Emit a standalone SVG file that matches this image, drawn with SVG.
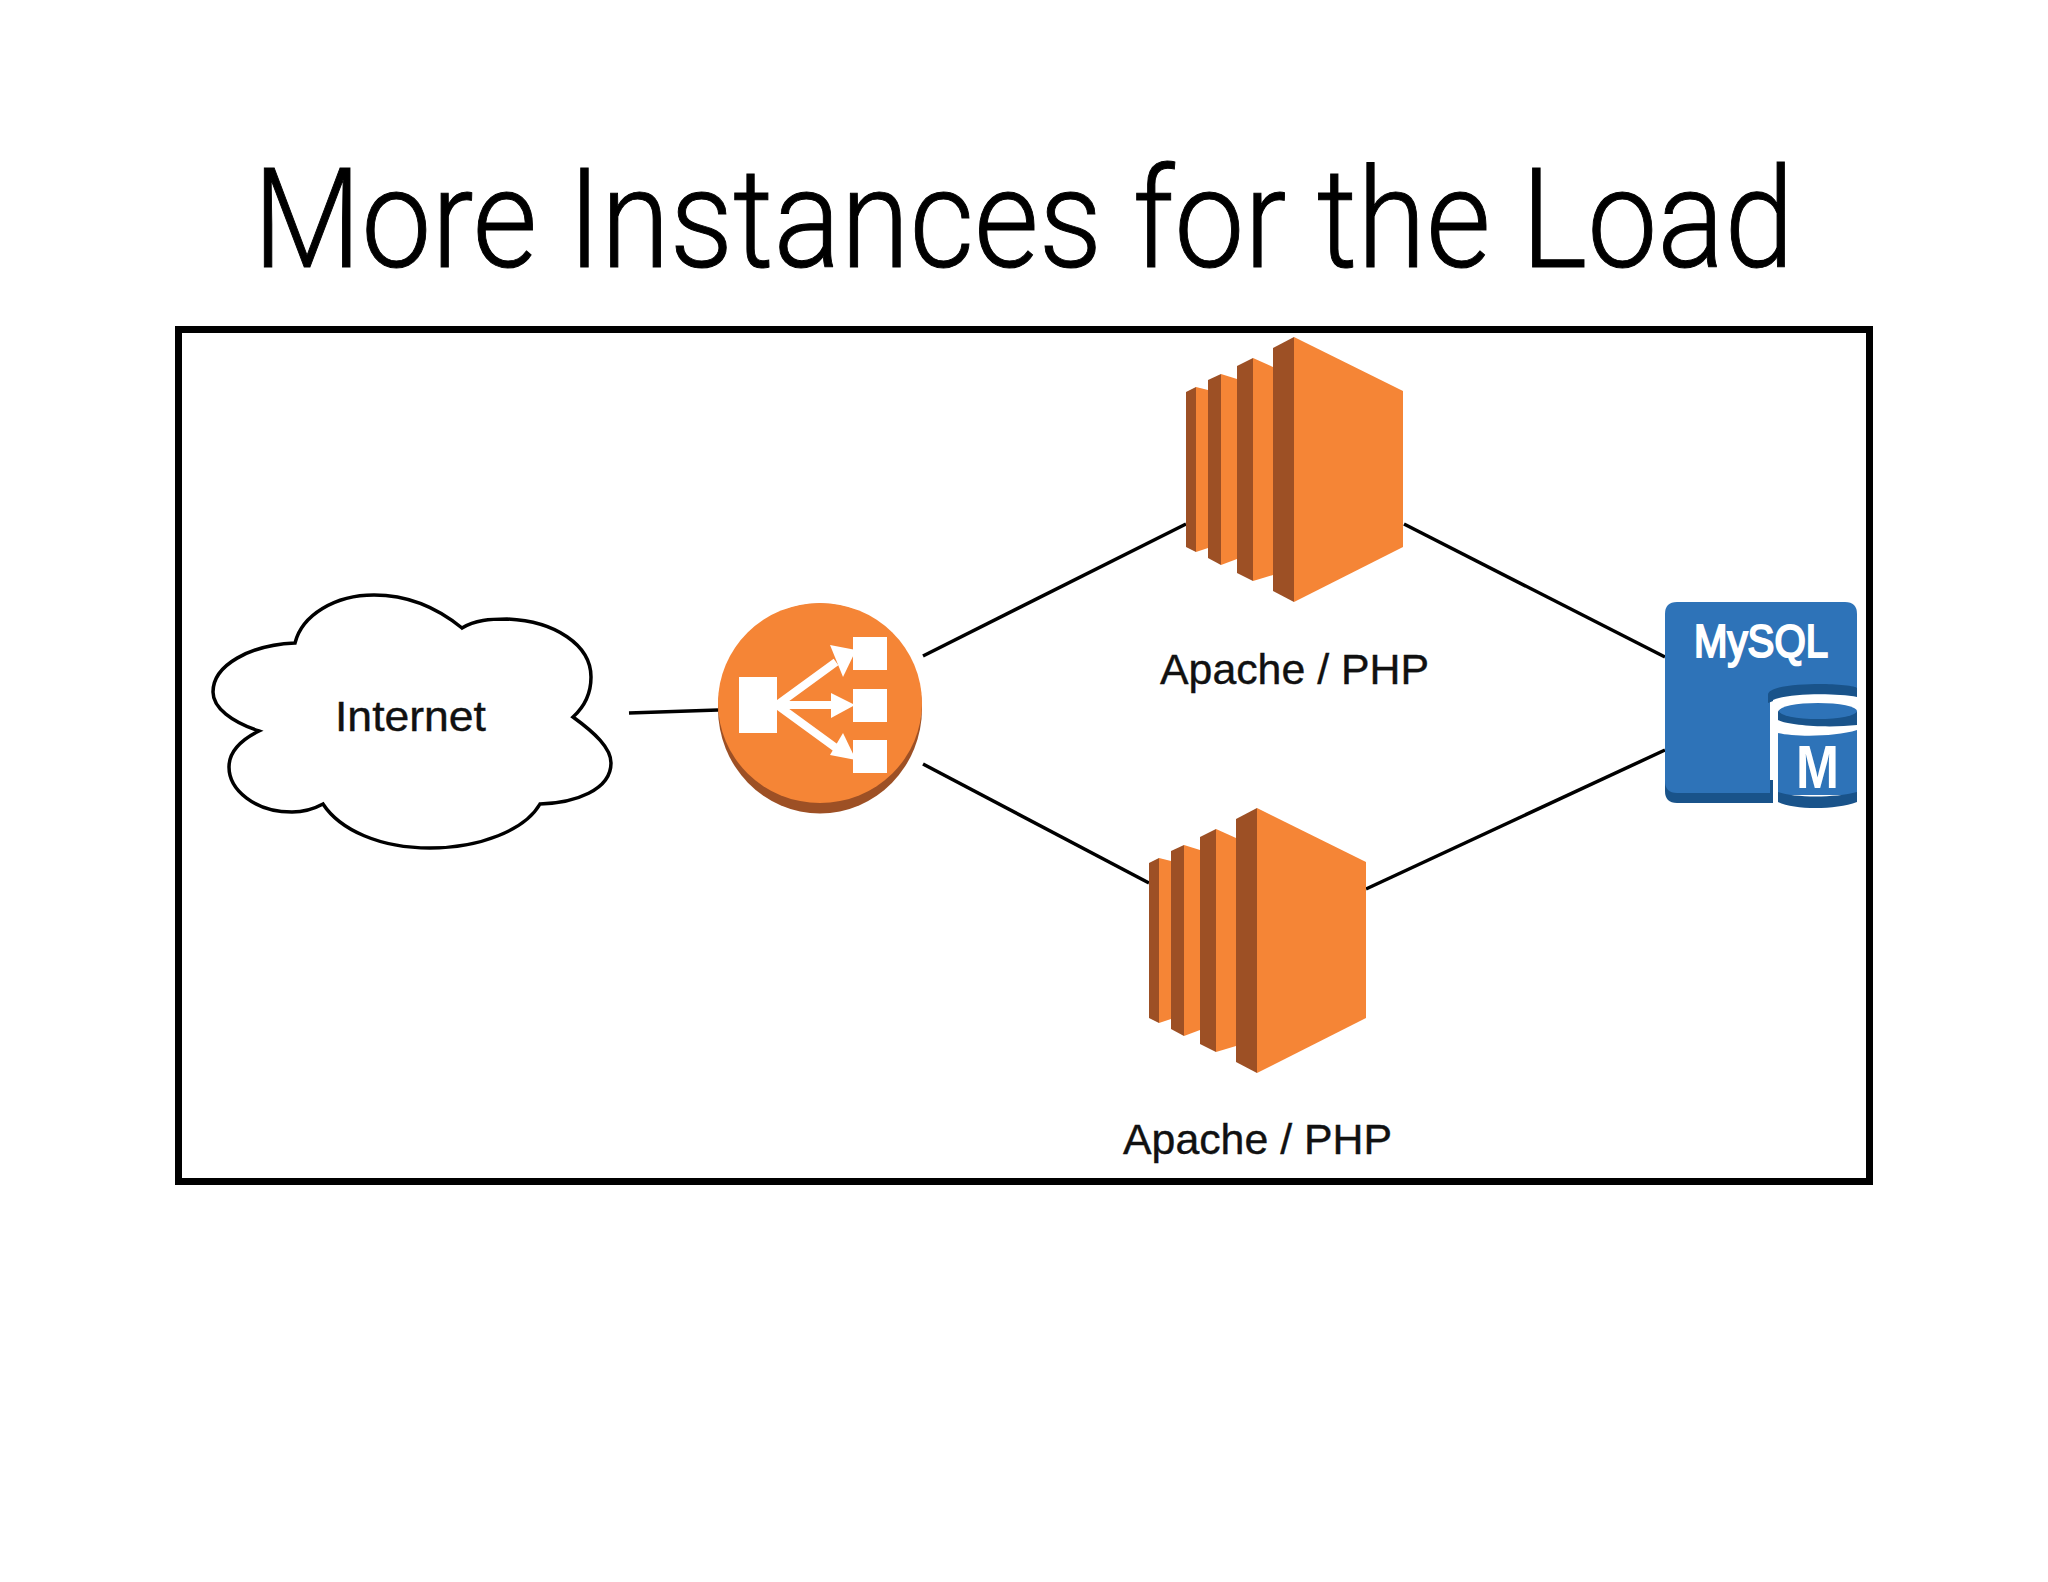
<svg xmlns="http://www.w3.org/2000/svg" width="2048" height="1582" viewBox="0 0 2048 1582">
<style>
.lbl{font-family:"Liberation Sans",Arial,sans-serif;font-size:43px;fill:#111;stroke:#111;stroke-width:.4}
.ln{stroke:#000;stroke-width:3.500;fill:none}
.o{fill:#F58536}.d{fill:#9D5025}
.w{fill:#fff}
.wl{stroke:#fff;stroke-width:8;fill:none}
.b{fill:#2E73B8}.bd{fill:#19538A}
</style>
<defs>
<g id="inst">
<polygon class="d" points="1186,392 1196,387 1196,552 1186,547"/>
<polygon class="o" points="1196,387 1208,390 1208,548 1196,552"/>
<polygon class="d" points="1208,380 1221,374 1221,565 1208,558"/>
<polygon class="o" points="1221,374 1237,379 1237,559 1221,565"/>
<polygon class="d" points="1237,366 1253,358 1253,581 1237,573"/>
<polygon class="o" points="1253,358 1273,367 1273,575 1253,581"/>
<polygon class="d" points="1273,348 1294,337 1294,602 1273,591"/>
<polygon class="o" points="1294,337 1403,391 1403,547 1294,602"/>
</g>
</defs>
<rect width="2048" height="1582" fill="#fff"/>
<text id="title" x="253" y="267" font-family="Roboto,'Liberation Sans',sans-serif" font-weight="300" font-size="139" textLength="1541" lengthAdjust="spacingAndGlyphs" fill="#000" stroke="#000" stroke-width="1">More Instances for the Load</text>
<rect id="frame" x="178.500" y="329.500" width="1691" height="852" fill="none" stroke="#000" stroke-width="7"/>
<g id="connectors">
<line class="ln" x1="629" y1="713" x2="718" y2="710"/>
<line class="ln" x1="923" y1="656" x2="1186" y2="524"/>
<line class="ln" x1="923" y1="764" x2="1149" y2="883"/>
<line class="ln" x1="1404" y1="524" x2="1665" y2="657"/>
<line class="ln" x1="1366" y1="889" x2="1665" y2="750"/>
</g>
<g id="internet">
<path d="M295,643 C302,615 335,595 374,595 C410,595 440,610 462,628 C475,620 490,619 507,619 C555,621 591,645 591,677 C591,695 583,708 573,717 C595,733 611,748 611,763 C611,790 575,803 540,804 C525,830 480,848 430,848 C380,848 340,830 323,804 C312,810 302,812 292,812 C255,812 229,790 229,767 C229,750 245,738 259,731 C232,722 213,708 213,692 C213,665 250,645 295,643 Z" fill="#fff" stroke="#000" stroke-width="3.500"/>
<text class="lbl" x="335" y="731" textLength="151" lengthAdjust="spacingAndGlyphs">Internet</text>
</g>
<g id="load-balancer">
<ellipse class="d" cx="820" cy="708.500" rx="102" ry="105"/>
<ellipse class="o" cx="820" cy="703" rx="102" ry="100"/>
<rect class="w" x="739" y="677" width="38" height="56"/>
<rect class="w" x="853" y="637" width="34" height="33"/>
<rect class="w" x="853" y="689" width="34" height="33"/>
<rect class="w" x="853" y="740" width="34" height="33"/>
<path class="wl" d="M777,705 L836,662 M777,705 L836,705 M777,705 L836,748"/>
<polygon class="w" points="830,645 856,650 843,677"/>
<polygon class="w" points="831,693 855,705 831,718"/>
<polygon class="w" points="843,733 856,760 830,755"/>
</g>
<g id="apache-1">
<use href="#inst"/>
<text class="lbl" x="1160" y="684" textLength="269" lengthAdjust="spacingAndGlyphs">Apache / PHP</text>
</g>
<g id="apache-2">
<use href="#inst" x="-37" y="471"/>
<text class="lbl" x="1123" y="1154" textLength="269" lengthAdjust="spacingAndGlyphs">Apache / PHP</text>
</g>
<g id="mysql">
<path class="bd" d="M1665,780 V791 Q1665,803 1677,803 H1773 V780 Z"/>
<path class="b" d="M1677,602 H1845 Q1857,602 1857,614 V700 H1770 V793 H1677 Q1665,793 1665,781 V614 Q1665,602 1677,602 Z"/>
<text x="1694" y="657" font-family="'Liberation Sans',Arial,sans-serif" font-weight="400" font-size="47" textLength="134" lengthAdjust="spacingAndGlyphs" fill="#fff" stroke="#fff" stroke-width="2.200">MySQL</text>
<path class="bd" d="M1768,695 C1768,686 1800,684 1820,684 C1835,684 1857,686 1857,688 V697 C1835,693 1790,693 1768,703 Z"/>
<path d="M1773,700 C1790,693 1835,693 1857,697 V808 H1773 Z" fill="#fff"/>
<path class="bd" d="M1778,712 C1778,703 1857,703 1857,712 V725 C1830,728 1790,726 1778,720 Z"/>
<ellipse class="b" cx="1818" cy="711" rx="39" ry="8"/>
<path class="b" d="M1778,733 C1795,737 1835,737 1857,730 V795 H1778 Z"/>
<path class="bd" d="M1778,792 C1795,798 1835,798 1857,792 V802 C1835,810 1795,810 1778,802 Z"/>
<text x="1796" y="788" font-family="'Liberation Sans',Arial,sans-serif" font-weight="700" font-size="62" textLength="43" lengthAdjust="spacingAndGlyphs" fill="#fff">M</text>
</g>
</svg>
